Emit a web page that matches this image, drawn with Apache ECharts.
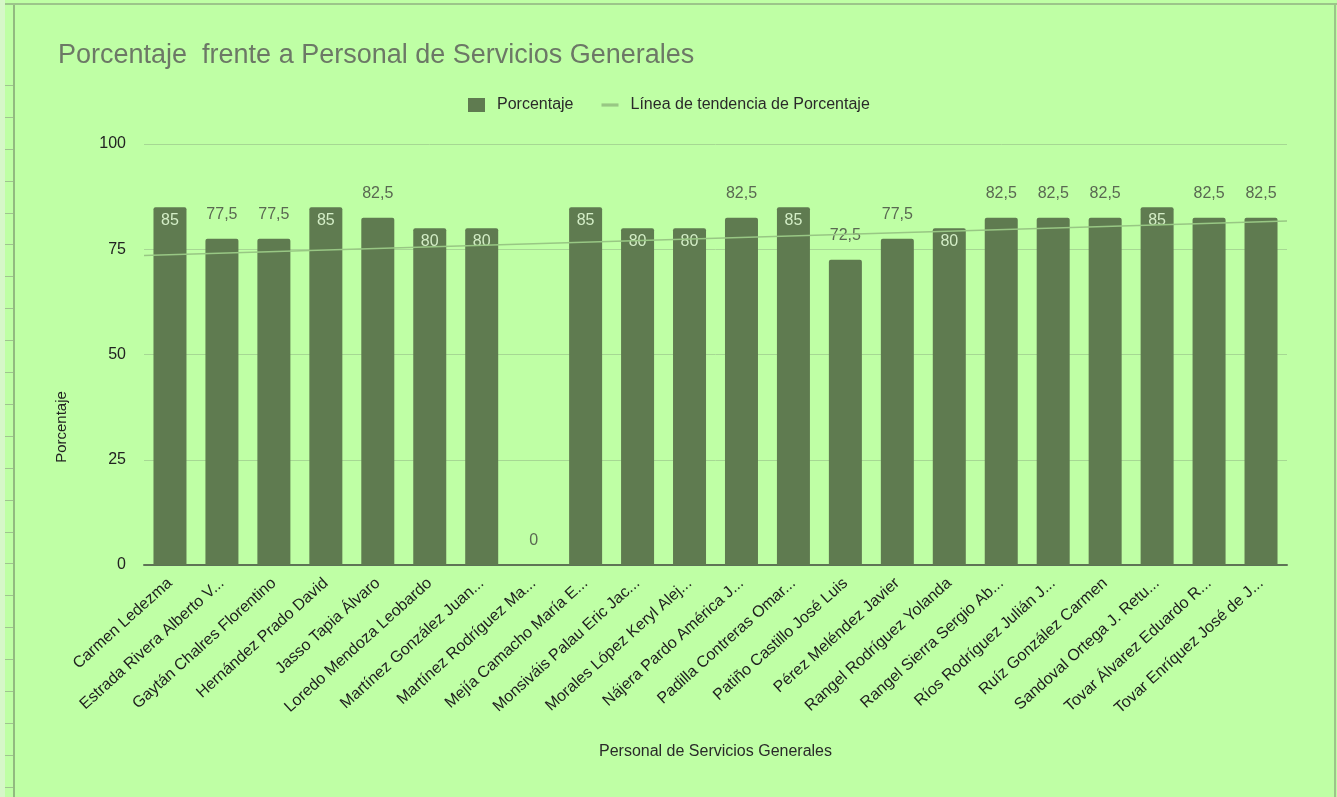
<!DOCTYPE html>
<html>
<head>
<meta charset="utf-8">
<script src="https://cdn.jsdelivr.net/npm/echarts@6/dist/echarts.min.js"></script>
<style>
  html, body { margin: 0; padding: 0; background: #bfffa5; }
  #wrap { position: relative; width: 1337px; height: 797px; overflow: hidden; background: #bfffa5; }
  #strip { position: absolute; left: 0; top: 0; width: 5px; height: 797px; background: #d6f7c8; }
  #ticks { position: absolute; left: 5px; top: 70px; width: 8px; height: 727px;
    background: repeating-linear-gradient(to bottom, transparent 0px, transparent 15px, #9fc48f 15px, #9fc48f 16px, transparent 16px, transparent 31.9px); }
  #lborder { position: absolute; left: 13px; top: 3px; width: 2px; height: 794px; background: #92ba80; }
  #tborder { position: absolute; left: 5px; top: 3px; width: 1332px; height: 2px; background: #9cc58a; }
  #rborder { position: absolute; left: 1334px; top: 3px; width: 2px; height: 794px; background: #9cc58a; }
  #chart { position: absolute; left: 0; top: 0; width: 1337px; height: 797px; }
</style>
</head>
<body>
<div id="wrap">
  <div id="strip"></div>
  <div id="ticks"></div>
  <div id="chart"></div>
  <div id="lborder"></div>
  <div id="tborder"></div>
  <div id="rborder"></div>
</div>
<script>
const categories = [
  "Carmen Ledezma",
  "Estrada Rivera Alberto V...",
  "Gaytán Chalres Florentino",
  "Hernández Prado David",
  "Jasso Tapia Álvaro",
  "Loredo Mendoza Leobardo",
  "Martínez González Juan...",
  "Martínez Rodríguez Ma...",
  "Mejía Camacho María E...",
  "Monsiváis Palau Eric Jac...",
  "Morales López Keryl Alej...",
  "Nájera Pardo América J...",
  "Padilla Contreras Omar...",
  "Patiño Castillo José Luis",
  "Pérez Meléndez Javier",
  "Rangel Rodríguez Yolanda",
  "Rangel Sierra Sergio Ab...",
  "Ríos Rodríguez Julián J...",
  "Ruíz González Carmen",
  "Sandoval Ortega J. Retu...",
  "Tovar Álvarez Eduardo R...",
  "Tovar Enríquez José de J..."
];
const porcentaje = [85, 77.5, 77.5, 85, 82.5, 80, 80, 0, 85, 80, 80, 82.5, 85, 72.5, 77.5, 80, 82.5, 82.5, 82.5, 85, 82.5, 82.5];
// trend line end values (left edge, right edge of plot)
const trendEnds = [73.5, 81.7];
const yTicks = [0, 25, 50, 75, 100];

const barColor = '#5f7b50';
const trendColor = '#98c784';
const font = '"Liberation Sans", Arial, sans-serif';

const barData = porcentaje.map(v => {
  const inside = v > 0 && Number.isInteger(v);
  return {
    value: v,
    label: inside
      ? { position: 'insideTop', distance: 5, color: '#d3edc6' }
      : { position: 'top', distance: 16, color: '#5a6952' }
  };
});

const chart = echarts.init(document.getElementById('chart'), null, { renderer: 'canvas' });
chart.setOption({
  backgroundColor: 'transparent',
  animation: false,
  title: {
    text: 'Porcentaje  frente a Personal de Servicios Generales',
    left: 53, top: 37,
    textStyle: { fontFamily: font, fontSize: 27, fontWeight: 'normal', color: '#6c7866' }
  },
  legend: {
    top: 92, left: 463,
    itemWidth: 17, itemHeight: 14, itemGap: 28,
    textStyle: { fontFamily: font, fontSize: 16, color: '#2a2a2a', padding: [0, 0, 0, 7] },
    data: [
      { name: 'Porcentaje', icon: 'rect' },
      { name: 'Línea de tendencia de Porcentaje', icon: 'path://M0,0 L16,0 L16,3 L0,3 Z', itemStyle: { color: trendColor } }
    ]
  },
  grid: { left: 144, right: 50, top: 144, bottom: 232, containLabel: false },
  xAxis: [
    {
      type: 'category',
      data: categories,
      name: 'Personal de Servicios Generales',
      nameLocation: 'middle',
      nameGap: 179,
      nameTextStyle: { fontFamily: font, fontSize: 16, color: '#2a2a2a' },
      axisLine: { lineStyle: { color: '#5e7456', width: 2 } },
      axisTick: { show: false },
      axisLabel: { rotate: 42, interval: 0, margin: 16, fontFamily: font, fontSize: 16, color: '#1e1e1e' }
    },
    {
      type: 'value', min: -0.5, max: 21.5, show: false, position: 'bottom'
    }
  ],
  yAxis: {
    type: 'value', min: 0, max: 100, interval: 25,
    axisLine: { show: false },
    axisTick: { show: false },
    axisLabel: {
      margin: 18, fontFamily: font, fontSize: 16, color: '#222',
      formatter: v => yTicks.includes(v) ? String(v) : ''
    },
    splitLine: { lineStyle: { color: '#a6d893', width: 1 } }
  },
  series: [
    {
      name: 'Porcentaje',
      type: 'bar',
      xAxisIndex: 0,
      barWidth: 33,
      itemStyle: { color: barColor, borderRadius: [2, 2, 0, 0] },
      label: {
        show: true, fontFamily: font, fontSize: 16,
        formatter: p => String(p.value).replace('.', ',')
      },
      data: barData,
      z: 2
    },
    {
      name: 'Línea de tendencia de Porcentaje',
      type: 'line',
      xAxisIndex: 1,
      symbol: 'none',
      lineStyle: { color: trendColor, width: 1.5 },
      itemStyle: { color: trendColor },
      data: [[-0.5, trendEnds[0]], [21.5, trendEnds[1]]],
      z: 3
    }
  ],
  graphic: [
    {
      type: 'text',
      x: 62, y: 427, rotation: Math.PI / 2,
      style: { text: 'Porcentaje', fontFamily: font, fontSize: 15, fill: '#222', align: 'center', verticalAlign: 'middle' }
    }
  ]
});
</script>
</body>
</html>
